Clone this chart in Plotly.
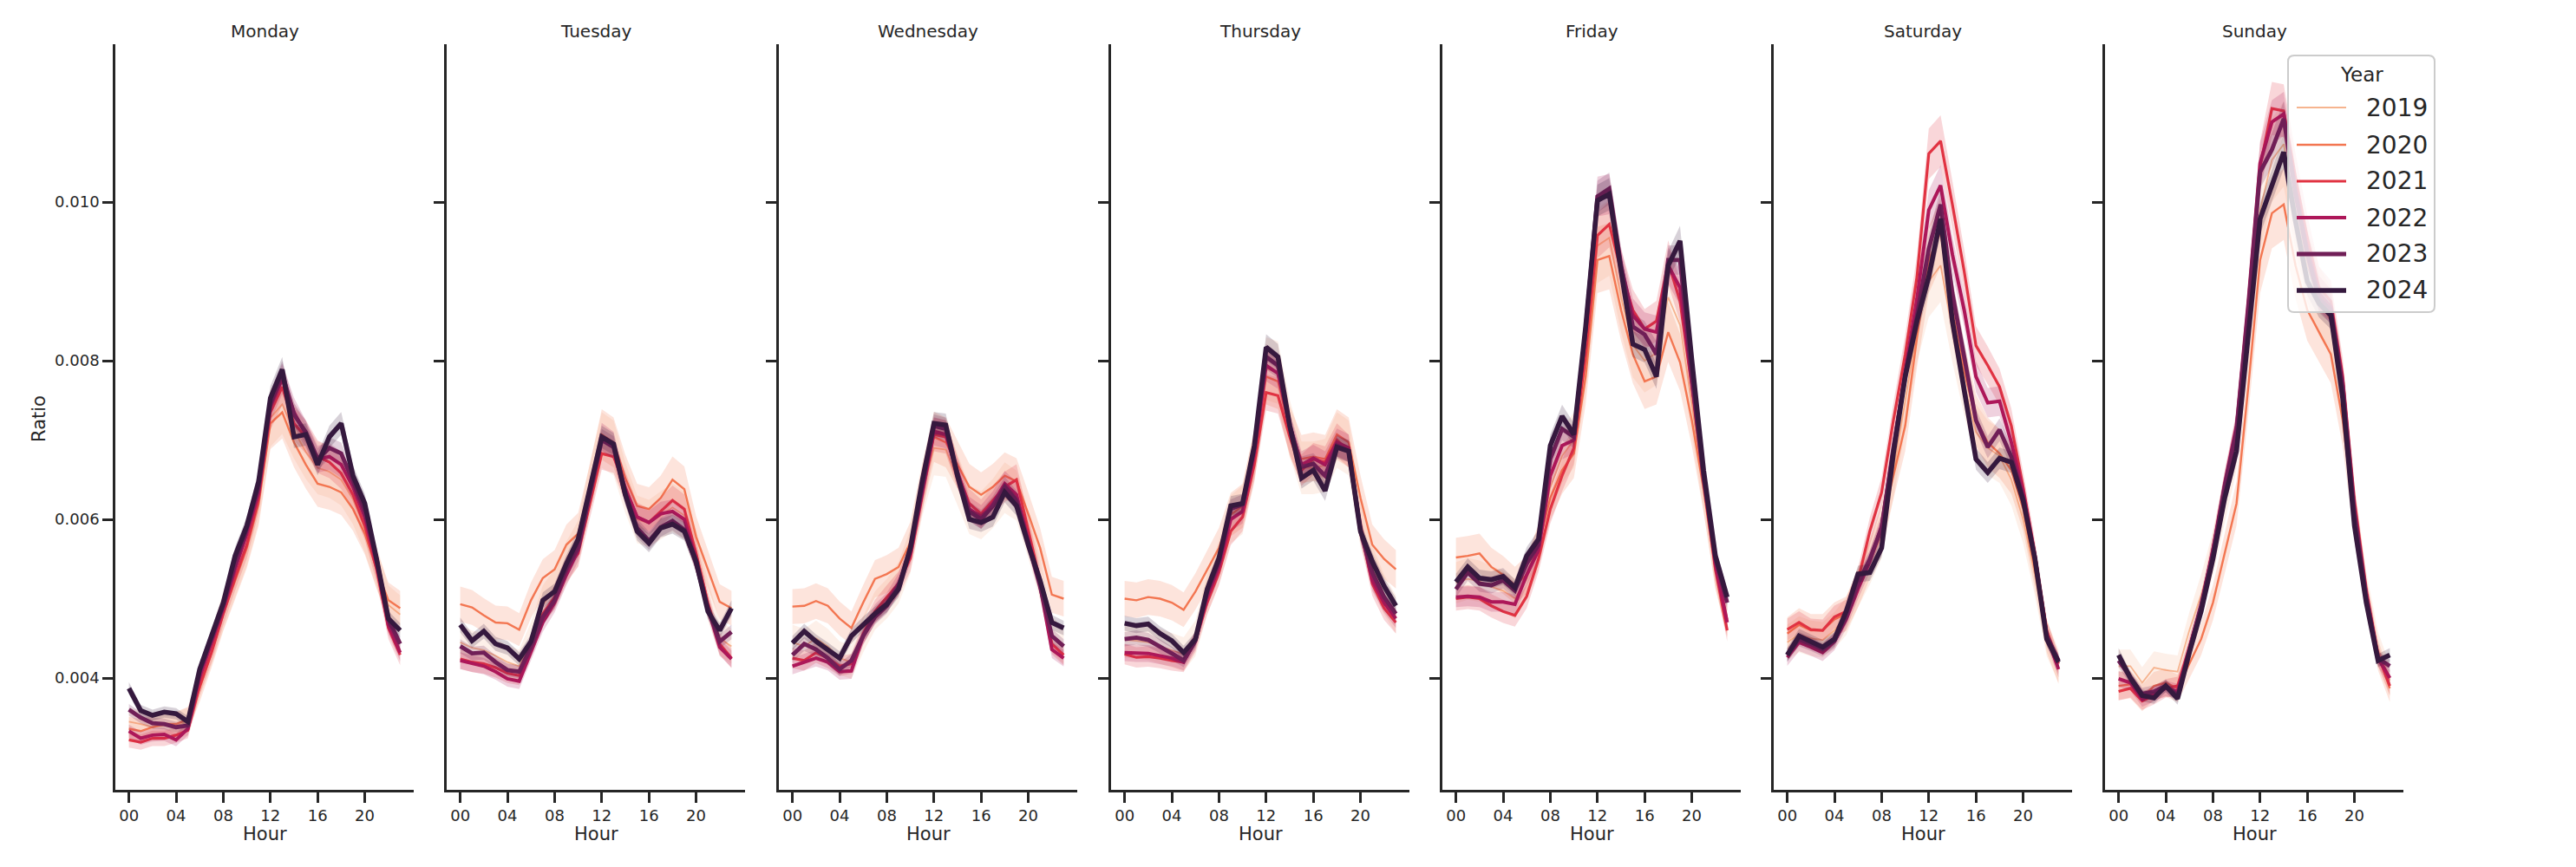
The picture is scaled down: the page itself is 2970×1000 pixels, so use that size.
import plotly.graph_objects as go

# ---------------- data ----------------
hours = list(range(24))
hour_ticks = [0, 4, 8, 12, 16, 20]
hour_tick_labels = ["00", "04", "08", "12", "16", "20"]
ratio_ticks = [0.004, 0.006, 0.008, 0.010]
ratio_tick_labels = ["0.004", "0.006", "0.008", "0.010"]
days = ["Monday", "Tuesday", "Wednesday", "Thursday", "Friday", "Saturday", "Sunday"]
years = [2019, 2020, 2021, 2022, 2023, 2024]
year_colors = ["#f6b48f", "#f37651", "#e13342", "#ad1759", "#701f57", "#35193e"]
year_widths = [1.8, 2.4, 3.2, 4.0, 4.8, 5.6]
# approximate relative half-width of the confidence band per year
ci_rel = [0.05, 0.045, 0.03, 0.025, 0.02, 0.02]

monday = {
    2019: [0.00345,0.00342,0.00338,0.00340,0.00340,0.00345,0.00395,0.00438,0.00485,0.00528,0.00570,0.00628,0.00728,0.00745,0.00712,0.00685,0.00665,0.00660,0.00650,0.00625,0.00588,0.00540,0.00492,0.00480],
    2020: [0.00336,0.00333,0.00338,0.00342,0.00342,0.00348,0.00387,0.00432,0.00481,0.00523,0.00564,0.00620,0.00721,0.00735,0.00697,0.00669,0.00645,0.00641,0.00634,0.00613,0.00582,0.00537,0.00498,0.00488],
    2021: [0.00322,0.00319,0.00324,0.00324,0.00328,0.00334,0.00390,0.00432,0.00481,0.00526,0.00568,0.00627,0.00735,0.00767,0.00721,0.00704,0.00679,0.00672,0.00658,0.00631,0.00592,0.00537,0.00463,0.00429],
    2022: [0.00333,0.00324,0.00328,0.00329,0.00322,0.00336,0.00401,0.00443,0.00488,0.00537,0.00582,0.00634,0.00742,0.00777,0.00735,0.00707,0.00676,0.00679,0.00669,0.00641,0.00603,0.00544,0.00467,0.00432],
    2023: [0.00360,0.00350,0.00343,0.00342,0.00338,0.00340,0.00408,0.00450,0.00491,0.00544,0.00589,0.00641,0.00746,0.00784,0.00732,0.00710,0.00676,0.00690,0.00683,0.00648,0.00610,0.00550,0.00474,0.00443],
    2024: [0.00387,0.00359,0.00353,0.00357,0.00355,0.00345,0.00411,0.00453,0.00495,0.00554,0.00592,0.00648,0.00753,0.00789,0.00704,0.00707,0.00669,0.00704,0.00721,0.00655,0.00620,0.00550,0.00475,0.00460],
}
tuesday = {
    2019: [0.00445,0.00438,0.00435,0.00428,0.00420,0.00415,0.00448,0.00492,0.00512,0.00545,0.00570,0.00640,0.00700,0.00690,0.00640,0.00600,0.00595,0.00605,0.00615,0.00605,0.00560,0.00498,0.00450,0.00440],
    2020: [0.00493,0.00489,0.00479,0.00470,0.00469,0.00461,0.00498,0.00526,0.00537,0.00568,0.00582,0.00641,0.00707,0.00697,0.00652,0.00617,0.00613,0.00627,0.00650,0.00638,0.00578,0.00537,0.00496,0.00488],
    2021: [0.00424,0.00420,0.00418,0.00413,0.00406,0.00403,0.00439,0.00481,0.00502,0.00537,0.00557,0.00620,0.00683,0.00679,0.00641,0.00603,0.00596,0.00610,0.00624,0.00613,0.00557,0.00495,0.00443,0.00425],
    2022: [0.00422,0.00418,0.00415,0.00408,0.00399,0.00396,0.00432,0.00470,0.00495,0.00530,0.00561,0.00631,0.00704,0.00693,0.00638,0.00603,0.00596,0.00607,0.00610,0.00600,0.00550,0.00488,0.00439,0.00424],
    2023: [0.00440,0.00431,0.00432,0.00420,0.00410,0.00408,0.00439,0.00477,0.00498,0.00537,0.00564,0.00634,0.00700,0.00691,0.00631,0.00589,0.00573,0.00590,0.00598,0.00587,0.00544,0.00488,0.00446,0.00458],
    2024: [0.00467,0.00447,0.00459,0.00443,0.00438,0.00424,0.00446,0.00498,0.00509,0.00544,0.00575,0.00641,0.00704,0.00695,0.00631,0.00585,0.00570,0.00589,0.00594,0.00585,0.00547,0.00484,0.00460,0.00488],
}
wednesday = {
    2019: [0.00445,0.00440,0.00450,0.00440,0.00425,0.00420,0.00455,0.00485,0.00500,0.00520,0.00560,0.00635,0.00690,0.00688,0.00650,0.00612,0.00605,0.00620,0.00640,0.00630,0.00580,0.00525,0.00455,0.00440],
    2020: [0.00490,0.00491,0.00497,0.00491,0.00475,0.00463,0.00495,0.00525,0.00531,0.00540,0.00571,0.00641,0.00704,0.00697,0.00669,0.00641,0.00631,0.00641,0.00655,0.00648,0.00607,0.00564,0.00505,0.00500],
    2021: [0.00425,0.00422,0.00432,0.00425,0.00415,0.00418,0.00456,0.00484,0.00502,0.00519,0.00551,0.00627,0.00707,0.00704,0.00659,0.00620,0.00607,0.00624,0.00641,0.00650,0.00585,0.00523,0.00443,0.00429],
    2022: [0.00415,0.00420,0.00425,0.00420,0.00408,0.00409,0.00453,0.00481,0.00495,0.00519,0.00557,0.00634,0.00711,0.00707,0.00659,0.00613,0.00603,0.00620,0.00645,0.00631,0.00575,0.00516,0.00436,0.00425],
    2023: [0.00429,0.00443,0.00436,0.00425,0.00411,0.00422,0.00453,0.00477,0.00491,0.00516,0.00561,0.00641,0.00718,0.00714,0.00655,0.00610,0.00600,0.00617,0.00641,0.00624,0.00568,0.00516,0.00453,0.00440],
    2024: [0.00444,0.00459,0.00446,0.00436,0.00425,0.00453,0.00468,0.00481,0.00493,0.00512,0.00564,0.00648,0.00721,0.00719,0.00655,0.00600,0.00596,0.00603,0.00634,0.00617,0.00568,0.00523,0.00470,0.00463],
}
thursday = {
    2019: [0.00448,0.00447,0.00445,0.00440,0.00435,0.00430,0.00450,0.00505,0.00545,0.00600,0.00612,0.00680,0.00790,0.00785,0.00715,0.00665,0.00665,0.00668,0.00700,0.00690,0.00595,0.00540,0.00505,0.00480],
    2020: [0.00500,0.00498,0.00502,0.00500,0.00495,0.00486,0.00509,0.00537,0.00564,0.00606,0.00617,0.00683,0.00780,0.00774,0.00711,0.00676,0.00679,0.00676,0.00707,0.00697,0.00627,0.00568,0.00550,0.00537],
    2021: [0.00430,0.00426,0.00427,0.00425,0.00422,0.00420,0.00446,0.00495,0.00533,0.00585,0.00603,0.00669,0.00760,0.00756,0.00704,0.00662,0.00676,0.00672,0.00700,0.00686,0.00589,0.00519,0.00488,0.00470],
    2022: [0.00432,0.00431,0.00431,0.00428,0.00425,0.00420,0.00447,0.00502,0.00540,0.00600,0.00610,0.00683,0.00794,0.00784,0.00718,0.00669,0.00677,0.00669,0.00697,0.00690,0.00589,0.00523,0.00495,0.00475],
    2023: [0.00449,0.00451,0.00448,0.00440,0.00431,0.00422,0.00447,0.00509,0.00547,0.00613,0.00619,0.00690,0.00805,0.00794,0.00718,0.00666,0.00670,0.00655,0.00693,0.00686,0.00585,0.00533,0.00502,0.00481],
    2024: [0.00469,0.00466,0.00468,0.00456,0.00447,0.00432,0.00449,0.00512,0.00551,0.00617,0.00620,0.00693,0.00817,0.00805,0.00718,0.00652,0.00662,0.00636,0.00691,0.00686,0.00585,0.00547,0.00516,0.00491],
}
friday = {
    2019: [0.00520,0.00525,0.00522,0.00515,0.00510,0.00500,0.00525,0.00565,0.00640,0.00680,0.00700,0.00800,0.00945,0.00955,0.00880,0.00820,0.00800,0.00810,0.00880,0.00845,0.00745,0.00645,0.00540,0.00475],
    2020: [0.00552,0.00554,0.00557,0.00540,0.00530,0.00517,0.00530,0.00568,0.00627,0.00662,0.00683,0.00780,0.00927,0.00932,0.00864,0.00808,0.00774,0.00780,0.00836,0.00798,0.00725,0.00638,0.00537,0.00474],
    2021: [0.00500,0.00502,0.00500,0.00491,0.00484,0.00479,0.00503,0.00550,0.00613,0.00655,0.00690,0.00808,0.00958,0.00972,0.00913,0.00864,0.00840,0.00850,0.00924,0.00875,0.00767,0.00648,0.00537,0.00460],
    2022: [0.00502,0.00503,0.00502,0.00496,0.00496,0.00493,0.00530,0.00561,0.00655,0.00693,0.00700,0.00836,0.01007,0.01010,0.00920,0.00857,0.00840,0.00836,0.00920,0.00892,0.00774,0.00655,0.00544,0.00470],
    2023: [0.00512,0.00533,0.00519,0.00517,0.00523,0.00510,0.00544,0.00568,0.00676,0.00714,0.00704,0.00840,0.01007,0.01017,0.00920,0.00843,0.00833,0.00808,0.00927,0.00927,0.00780,0.00652,0.00550,0.00495],
    2024: [0.00521,0.00540,0.00526,0.00524,0.00528,0.00514,0.00554,0.00575,0.00693,0.00730,0.00707,0.00843,0.01002,0.01010,0.00913,0.00821,0.00814,0.00780,0.00920,0.00951,0.00801,0.00662,0.00554,0.00502],
}
saturday = {
    2019: [0.00445,0.00455,0.00450,0.00448,0.00460,0.00478,0.00515,0.00545,0.00580,0.00660,0.00750,0.00840,0.00900,0.00920,0.00840,0.00770,0.00710,0.00690,0.00680,0.00650,0.00600,0.00530,0.00450,0.00415],
    2020: [0.00456,0.00467,0.00460,0.00460,0.00474,0.00481,0.00512,0.00550,0.00592,0.00655,0.00718,0.00829,0.00927,0.00962,0.00864,0.00787,0.00725,0.00697,0.00683,0.00662,0.00613,0.00537,0.00453,0.00411],
    2021: [0.00461,0.00470,0.00461,0.00460,0.00477,0.00484,0.00523,0.00585,0.00634,0.00725,0.00808,0.00906,0.01061,0.01077,0.00997,0.00913,0.00819,0.00794,0.00767,0.00718,0.00641,0.00557,0.00460,0.00418],
    2022: [0.00426,0.00445,0.00439,0.00432,0.00446,0.00474,0.00512,0.00547,0.00592,0.00690,0.00787,0.00878,0.00990,0.01021,0.00934,0.00864,0.00780,0.00747,0.00749,0.00697,0.00634,0.00554,0.00453,0.00411],
    2023: [0.00429,0.00449,0.00443,0.00436,0.00447,0.00477,0.00519,0.00550,0.00589,0.00690,0.00780,0.00857,0.00941,0.00997,0.00885,0.00808,0.00725,0.00691,0.00713,0.00679,0.00627,0.00550,0.00453,0.00422],
    2024: [0.00429,0.00453,0.00446,0.00439,0.00449,0.00484,0.00531,0.00533,0.00564,0.00683,0.00780,0.00850,0.00906,0.00979,0.00850,0.00767,0.00676,0.00659,0.00677,0.00672,0.00624,0.00550,0.00449,0.00420],
}
sunday = {
    2019: [0.00415,0.00415,0.00394,0.00413,0.00410,0.00408,0.00460,0.00505,0.00557,0.00627,0.00697,0.00836,0.00990,0.01053,0.01073,0.00990,0.00920,0.00875,0.00850,0.00760,0.00613,0.00509,0.00436,0.00397],
    2020: [0.00390,0.00392,0.00375,0.00390,0.00394,0.00387,0.00418,0.00449,0.00495,0.00557,0.00620,0.00767,0.00927,0.00986,0.00997,0.00920,0.00864,0.00836,0.00808,0.00725,0.00600,0.00502,0.00429,0.00387],
    2021: [0.00383,0.00387,0.00371,0.00378,0.00387,0.00390,0.00439,0.00491,0.00564,0.00641,0.00711,0.00864,0.01045,0.01118,0.01115,0.01031,0.00955,0.00892,0.00875,0.00781,0.00624,0.00512,0.00429,0.00390],
    2022: [0.00399,0.00394,0.00373,0.00380,0.00387,0.00383,0.00436,0.00491,0.00561,0.00645,0.00718,0.00875,0.01049,0.01101,0.01111,0.01017,0.00941,0.00885,0.00868,0.00774,0.00613,0.00505,0.00425,0.00400],
    2023: [0.00422,0.00400,0.00380,0.00383,0.00390,0.00378,0.00436,0.00491,0.00557,0.00641,0.00711,0.00864,0.01038,0.01066,0.01105,0.01010,0.00934,0.00878,0.00864,0.00767,0.00607,0.00502,0.00425,0.00415],
    2024: [0.00429,0.00400,0.00378,0.00375,0.00390,0.00374,0.00432,0.00484,0.00550,0.00627,0.00686,0.00836,0.00979,0.01021,0.01063,0.00976,0.00900,0.00872,0.00857,0.00753,0.00592,0.00495,0.00422,0.00429],
}
day_data = [monday, tuesday, wednesday, thursday, friday, saturday, sunday]

# ---------------- layout geometry (pixels of the 2970x1000 canvas) ----------------
W, H = 2970, 1000
panel_left = [133, 515, 898, 1281, 1663, 2045, 2427]
panel_w = 344
plot_top, plot_bottom = 51, 911
x_range = [-1.15, 24.15]
y_range = [0.00259, 0.01199]
ink = "#262626"
font_family = "DejaVu Sans, Liberation Sans, sans-serif"


def px(x):
    return x / W


def py(y):
    return 1 - y / H


def rgba(hex_color, a):
    h = hex_color.lstrip("#")
    r, g, b = int(h[0:2], 16), int(h[2:4], 16), int(h[4:6], 16)
    return f"rgba({r},{g},{b},{a})"


fig = go.Figure()

for i, data in enumerate(day_data):
    xa = "x" if i == 0 else f"x{i+1}"
    ya = "y" if i == 0 else f"y{i+1}"
    for k, yr in enumerate(years):
        vals = data[yr]
        upper = [v * (1 + ci_rel[k]) for v in vals]
        lower = [v * (1 - ci_rel[k]) for v in vals]
        fig.add_trace(go.Scatter(
            x=hours + hours[::-1], y=upper + lower[::-1],
            fill="toself", fillcolor=rgba(year_colors[k], 0.2),
            line=dict(width=0), mode="lines", hoverinfo="skip",
            showlegend=False, xaxis=xa, yaxis=ya))
        fig.add_trace(go.Scatter(
            x=hours, y=vals, mode="lines", name=str(yr),
            line=dict(color=year_colors[k], width=year_widths[k]),
            showlegend=False, xaxis=xa, yaxis=ya))

axis_common = dict(
    showline=True, linecolor=ink, linewidth=2.5, mirror=False,
    ticks="outside", ticklen=12, tickwidth=2.5, tickcolor=ink,
    showgrid=False, zeroline=False,
    tickfont=dict(family=font_family, size=18, color=ink),
)

layout = dict(
    width=W, height=H,
    margin=dict(l=0, r=0, t=0, b=0),
    paper_bgcolor="white", plot_bgcolor="white",
    font=dict(family=font_family, color=ink),
    showlegend=False,
)

annotations = []
for i, day in enumerate(days):
    xkey = "xaxis" if i == 0 else f"xaxis{i+1}"
    ykey = "yaxis" if i == 0 else f"yaxis{i+1}"
    l = panel_left[i]
    layout[xkey] = dict(
        domain=[px(l), px(l + panel_w)], range=x_range,
        tickmode="array", tickvals=hour_ticks, ticktext=hour_tick_labels,
        anchor="y" if i == 0 else f"y{i+1}", automargin=False, **axis_common)
    layout[ykey] = dict(
        domain=[py(plot_bottom), py(plot_top)], range=y_range,
        tickmode="array", tickvals=ratio_ticks, ticktext=ratio_tick_labels,
        showticklabels=(i == 0),
        anchor="x" if i == 0 else f"x{i+1}", automargin=False, **axis_common)
    cx = l + panel_w / 2
    annotations.append(dict(text=day, x=px(cx), y=py(36), xref="paper", yref="paper",
                            showarrow=False, xanchor="center", yanchor="middle",
                            font=dict(size=20, color=ink, family=font_family)))
    annotations.append(dict(text="Hour", x=px(cx), y=py(962), xref="paper", yref="paper",
                            showarrow=False, xanchor="center", yanchor="middle",
                            font=dict(size=21, color=ink, family=font_family)))

annotations.append(dict(text="Ratio", x=px(45), y=py(483), xref="paper", yref="paper",
                        showarrow=False, textangle=-90, xanchor="center", yanchor="middle",
                        font=dict(size=21, color=ink, family=font_family)))

# ---------------- legend (drawn as shapes + text) ----------------
lg_l, lg_r, lg_t, lg_b = 2638, 2807, 64, 360
rad = 7
path = (f"M {px(lg_l+rad)},{py(lg_t)} L {px(lg_r-rad)},{py(lg_t)} "
        f"Q {px(lg_r)},{py(lg_t)} {px(lg_r)},{py(lg_t+rad)} "
        f"L {px(lg_r)},{py(lg_b-rad)} Q {px(lg_r)},{py(lg_b)} {px(lg_r-rad)},{py(lg_b)} "
        f"L {px(lg_l+rad)},{py(lg_b)} Q {px(lg_l)},{py(lg_b)} {px(lg_l)},{py(lg_b-rad)} "
        f"L {px(lg_l)},{py(lg_t+rad)} Q {px(lg_l)},{py(lg_t)} {px(lg_l+rad)},{py(lg_t)} Z")
shapes = [dict(type="path", path=path, xref="paper", yref="paper", layer="above",
               fillcolor="rgba(255,255,255,0.8)", line=dict(color="#cccccc", width=2))]
annotations.append(dict(text="Year", x=px((lg_l + lg_r) / 2), y=py(86), xref="paper", yref="paper",
                        showarrow=False, xanchor="center", yanchor="middle",
                        font=dict(size=23, color=ink, family=font_family)))
item_y = [124, 167, 209, 251, 293, 335]
for k, yr in enumerate(years):
    shapes.append(dict(type="line", xref="paper", yref="paper", layer="above",
                       x0=px(2648), x1=px(2705), y0=py(item_y[k]), y1=py(item_y[k]),
                       line=dict(color=year_colors[k], width=year_widths[k])))
    annotations.append(dict(text=str(yr), x=px(2726), y=py(item_y[k]), xref="paper", yref="paper",
                            showarrow=False, xanchor="left", yanchor="middle",
                            font=dict(size=28, color=ink, family=font_family)))

layout["annotations"] = annotations
layout["shapes"] = shapes
fig.update_layout(**layout)

fig.write_html("out.html",
               config={"displayModeBar": False},
               post_script="document.body.style.margin='0';document.body.style.overflow='hidden';")
